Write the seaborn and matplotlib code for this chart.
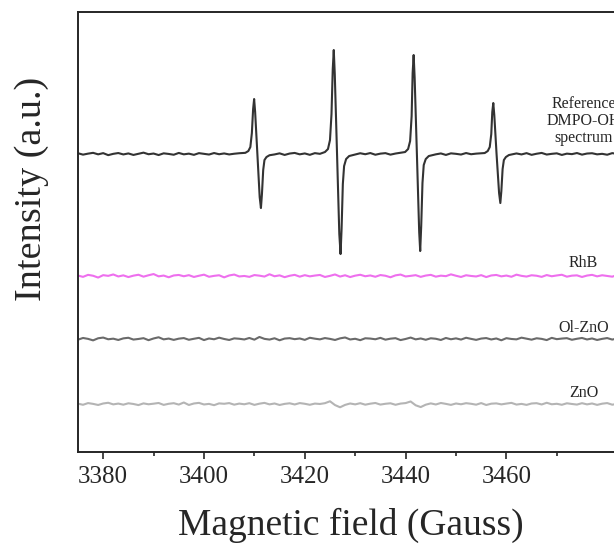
import numpy as np
import pandas as pd
import matplotlib
matplotlib.use("Agg")
import matplotlib.pyplot as plt
import seaborn as sns
from matplotlib.ticker import FixedLocator

# DMPO-OH reference spectrum (field in Gauss, signal in a.u. around its own baseline)
REF_FIELD = [
    3375, 3376, 3377, 3378, 3379, 3380, 3381, 3382, 3383, 3384, 3385, 3386, 3387, 3388, 3389, 3390,
    3391, 3392, 3393, 3394, 3395, 3396, 3397, 3398, 3399, 3400, 3401, 3402, 3403, 3404, 3405, 3406, 3407,
    3408.2, 3408.8, 3409.2, 3409.5, 3409.75, 3409.95, 3410.15, 3410.6, 3411.05, 3411.3, 3411.5, 3411.75,
    3412.0, 3412.4, 3413.0,
    3414, 3415, 3416, 3417, 3418, 3419, 3420, 3421, 3422, 3423,
    3424.0, 3424.6, 3425.0, 3425.3, 3425.55, 3425.75, 3425.95, 3426.4, 3426.85, 3427.1, 3427.3, 3427.55,
    3427.8, 3428.2, 3428.8,
    3430, 3431, 3432, 3433, 3434, 3435, 3436, 3437, 3438,
    3439.9, 3440.5, 3440.9, 3441.2, 3441.4, 3441.6, 3441.8, 3442.25, 3442.7, 3442.9, 3443.1, 3443.35,
    3443.6, 3444.0, 3444.6,
    3446, 3447, 3448, 3449, 3450, 3451, 3452, 3453, 3454,
    3455.7, 3456.3, 3456.7, 3457.0, 3457.2, 3457.4, 3457.6, 3458.05, 3458.55, 3458.8, 3459.0, 3459.25,
    3459.5, 3459.9, 3460.5,
    3462, 3463, 3464, 3465, 3466, 3467, 3468, 3469, 3470, 3471, 3472, 3473, 3474, 3475, 3476, 3477,
    3478, 3479, 3480, 3481, 3482, 3483, 3484, 3485, 3486, 3487, 3488,
]
REF_SIGNAL = [
    0.8, -0.6, 0.4, 1.2, -0.3, 0.9, -1.1, 0.2, 1.0, -0.4, 0.6, -0.9, 0.3, 1.4, -0.2, 0.5,
    -1.0, 0.7, 0.1, -0.7, 1.1, -0.3, 0.4, -0.8, 0.9, 0.2, -0.5, 1.0, -0.2, 0.6, -0.4, 0.3, 0.8,
    1.2, 3, 7, 21, 45, 55, 42, 0, -43, -54, -40, -16,
    -6, -3, -1.2,
    -0.4, 0.7, -0.9, 0.5, 1.1, -0.3, 0.6, -0.8, 0.9, 0.2,
    2, 5, 14, 40, 85, 104, 80, 0, -80, -100, -75, -30,
    -12, -5, -2,
    -0.5, 0.8, -0.2, 1.0, -0.7, 0.4, 0.9, -0.6, 0.5,
    2, 5, 13, 38, 81, 99, 76, 0, -78, -97, -72, -29,
    -11, -5, -2,
    -0.3, 0.6, -0.9, 0.7, 0.2, -0.5, 1.0, -0.2, 0.4,
    1, 3, 7, 20, 42, 51, 39, 0, -39, -49, -37, -15,
    -6, -3, -1,
    0.6, -0.4, 0.9, -0.8, 0.3, 1.1, -0.5, 0.2, 0.7, -0.9, 0.4, -0.1, 1.0, -0.6, 0.5, 0.8,
    -0.3, 0.2, -0.7, 0.9, 0.1, -0.4, 0.6, 1.2, -0.2, 0.3, -0.5,
]

# sample sweeps, 1 G steps from 3375 to 3488
FIELD = np.arange(3375, 3489)
RHB = [
    0.5, -0.8, 1.2, 0.3, -1.5, 0.9, 0.2, 1.6, -0.4, 0.7,
    -1.0, 0.4, 1.3, -0.6, 0.8, 2.0, -0.3, 0.5, -1.2, 0.6,
    1.1, -0.2, 0.9, -0.9, 0.3, 1.4, -0.7, 0.2, 0.8, -1.3,
    0.6, 1.5, -0.4, 0.1, -0.8, 1.0, 0.4, -0.5, 1.8, -0.2,
    0.7, -1.1, 0.3, 1.2, -0.6, 0.9, -0.3, 0.5, 1.1, -0.9,
    0.2, 1.6, -0.5, 0.8, -1.0, 0.4, 1.3, -0.2, 0.6, -0.7,
    1.0, 0.3, -1.2, 0.7, 1.5, -0.4, 0.2, 0.9, -0.8, 0.5,
    1.2, -0.6, 0.4, -0.1, 1.7, 0.3, -0.9, 0.8, 0.1, -0.4,
    0.9, -1.0, 0.6, 1.1, -0.3, 0.5, -0.7, 1.4, 0.2, -0.5,
    0.8, 0.3, -0.8, 1.0, -0.2, 0.6, 1.3, -0.6, 0.4, 0.7,
    -0.9, 0.5, 1.2, -0.3, 0.8, 0.1, -0.6, 1.0, 0.4, -0.2,
    0.6, -0.4, 0.9, 0.2,
]
OL_ZNO = [
    -0.6, 1.1, 0.2, -1.3, 0.8, 1.5, -0.2, 0.4, -0.9, 0.7,
    1.3, -0.5, 0.1, 0.9, -1.1, 0.6, 1.8, -0.3, 0.5, -0.8,
    0.4, 1.0, -0.7, 0.3, 1.2, -1.0, 0.6, -0.2, 1.4, 0.1,
    -0.9, 0.7, 0.3, -0.4, 1.1, -0.6, 2.1, 0.2, -0.5, 0.8,
    -1.2, 0.5, 0.9, -0.1, 0.6, -0.8, 1.3, 0.4, -0.3, 1.0,
    0.2, -0.9, 0.7, 1.6, -0.4, 0.3, -1.1, 0.8, 0.5, -0.2,
    1.2, -0.6, 0.4, 0.9, -1.0, 0.1, 1.5, -0.3, 0.6, -0.7,
    0.8, 0.3, -0.9, 1.1, -0.2, 0.7, -0.5, 1.3, 0.2, -0.8,
    0.5, 1.0, -0.4, 0.6, -1.2, 0.9, 0.1, -0.3, 1.4, 0.4,
    -0.6, 0.8, 0.2, -1.0, 1.2, -0.1, 0.5, 0.9, -0.7, 0.3,
    1.1, -0.4, 0.6, -0.9, 0.2, 1.0, -0.5, 0.7, 0.3, -0.2,
    0.9, -0.6, 0.4, 0.1,
]
ZNO = [
    0.4, -0.7, 1.0, 0.2, -0.9, 0.6, 1.3, -0.3, 0.5, -0.6,
    0.8, 0.1, -1.0, 0.7, -0.2, 0.4, 1.1, -0.8, 0.3, 0.9,
    -0.5, 1.6, -0.9, 0.6, 1.2, -0.4, 0.2, -1.1, 0.7, 0.3,
    1.0, -0.6, 0.5, -0.2, 0.9, -0.8, 0.4, 1.2, -0.3, 0.6,
    -0.9, 0.2, 0.8, -0.4, 1.0, 0.3, -0.7, 0.5, 0.1, 0.9,
    2.8, -1.0, -3.2, -0.8, 0.6, -0.3, 0.9, -0.6, 0.4, 1.1,
    -0.5, 0.3, 0.8, -0.7, 0.5, 1.0, 2.6, -1.2, -3.0, -0.6,
    0.7, -0.4, 1.1, 0.2, -0.8, 0.6, -0.2, 0.9, 0.3, -0.6,
    1.0, -0.9, 0.4, 0.7, -0.3, 0.5, 1.2, -0.5, 0.2, -0.8,
    0.6, 0.9, -0.4, 1.3, -0.2, 0.3, -0.7, 0.8, 0.1, -0.5,
    0.9, -0.3, 0.6, -0.8, 0.4, 1.0, -0.6, 0.2, 0.7, -0.1,
    0.5, -0.4, 0.8, 0.2,
]

MAJOR_TICKS = [3380, 3400, 3420, 3440, 3460]
MINOR_TICKS = [3390, 3410, 3430, 3450, 3470]

# vertical stacking offsets and label heights
OFFSETS = {"ref": 298, "RhB": 176, "Ol-ZnO": 113, "ZnO": 48}
LABEL_Y = {"ref": 331, "RhB": 189, "Ol-ZnO": 124, "ZnO": 59}
COLORS = {"ref": "#333333", "RhB": "#ee6fee", "Ol-ZnO": "#6a6a6a", "ZnO": "#b4b4b4"}

sns.set_style("ticks")
plt.rcParams['font.family'] = ['Liberation Serif', 'DejaVu Serif']

fig = plt.figure(figsize=(6.14, 5.46), dpi=100)
ax = fig.add_axes([0.127, 0.172, 0.889, 0.806])

ref_df = pd.DataFrame({"field": REF_FIELD, "signal": np.array(REF_SIGNAL) + OFFSETS["ref"]})
sns.lineplot(data=ref_df, x="field", y="signal", color=COLORS["ref"], lw=1.5,
             estimator=None, sort=False, ax=ax)

for name, vals in [("RhB", RHB), ("Ol-ZnO", OL_ZNO), ("ZnO", ZNO)]:
    d = pd.DataFrame({"field": FIELD, "signal": np.array(vals) + OFFSETS[name]})
    sns.lineplot(data=d, x="field", y="signal", color=COLORS[name], lw=1.5,
                 estimator=None, sort=False, ax=ax)

# trace labels
ax.text(3475.3, LABEL_Y["ref"], "Reference\nDMPO-OH\nspectrum", ha="center", va="center",
        fontsize=11.5, linespacing=1.05)
for name in ["RhB", "Ol-ZnO", "ZnO"]:
    ax.text(3475.3, LABEL_Y[name], name, ha="center", va="center", fontsize=11.5)

ax.set_xlim(3375.0, 3483.3)
ax.set_ylim(0, 440)
ax.xaxis.set_major_locator(FixedLocator(MAJOR_TICKS))
ax.xaxis.set_minor_locator(FixedLocator(MINOR_TICKS))
ax.set_yticks([])
ax.tick_params(axis="x", which="major", direction="out", length=5, width=1.2, labelsize=18, pad=5)
ax.tick_params(axis="x", which="minor", direction="out", length=3, width=1.2)
for s in ax.spines.values():
    s.set_linewidth(1.4)

ax.set_xlabel("Magnetic field (Gauss)", fontsize=27, labelpad=14)
ax.set_ylabel("Intensity (a.u.)", fontsize=27.5)
ax.yaxis.set_label_coords(-0.053, 0.598)

fig.savefig("out.png", dpi=100)
